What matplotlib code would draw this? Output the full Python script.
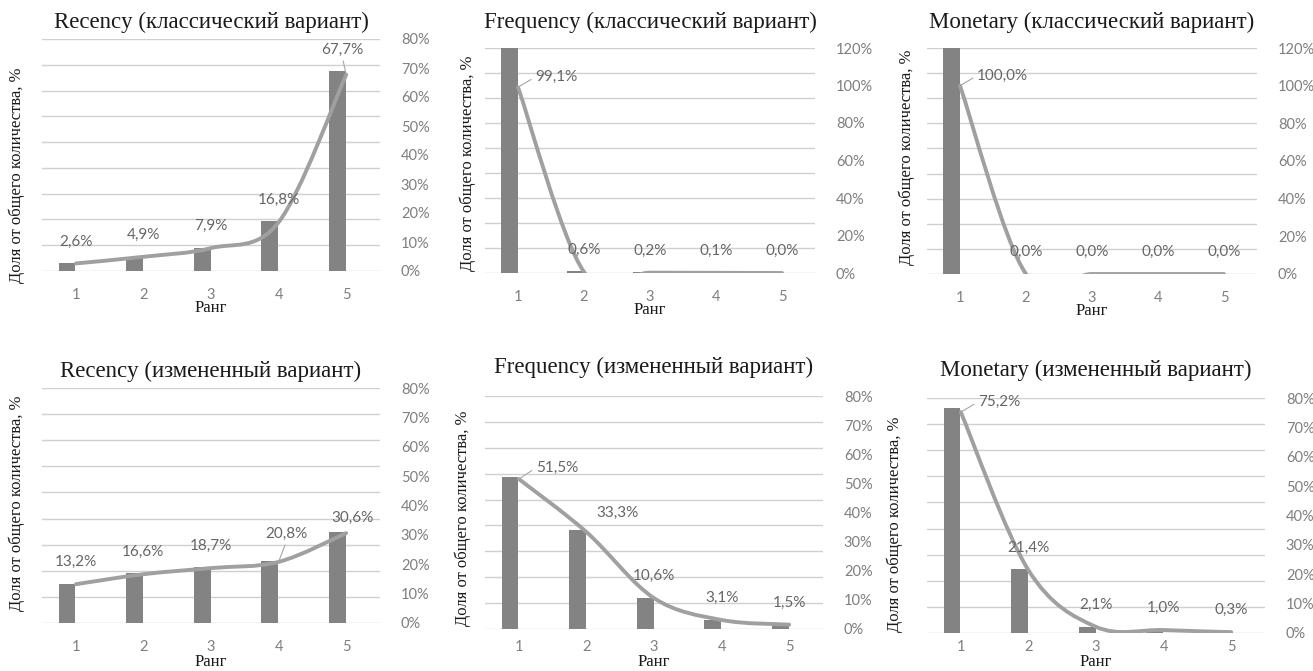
import numpy as np
import matplotlib
matplotlib.use("Agg")
import matplotlib.pyplot as plt
from matplotlib.path import Path
from matplotlib.patches import PathPatch
from matplotlib.ticker import FuncFormatter

# ---------------- data ----------------
ranks = [1, 2, 3, 4, 5]
titles = [
    "Recency (классический вариант)",
    "Frequency (классический вариант)",
    "Monetary (классический вариант)",
    "Recency (измененный вариант)",
    "Frequency (измененный вариант)",
    "Monetary (измененный вариант)",
]
recency_classic = [2.6, 4.9, 7.9, 16.8, 67.7]
frequency_classic = [99.1, 0.6, 0.2, 0.1, 0.0]
monetary_classic = [100.0, 0.0, 0.0, 0.0, 0.0]
recency_mod = [13.2, 16.6, 18.7, 20.8, 30.6]
frequency_mod = [51.5, 33.3, 10.6, 3.1, 1.5]
monetary_mod = [75.2, 21.4, 2.1, 1.0, 0.3]
series = [recency_classic, frequency_classic, monetary_classic,
          recency_mod, frequency_mod, monetary_mod]
right_max = [80, 120, 120, 80, 80, 80]
right_step = [10, 20, 20, 10, 10, 10]

ylabel = "Доля от общего количества, %"
xlabel = "Ранг"

# ---------------- layout (pixels) ----------------
W, H = 1313, 671
# plot area: x0, x1, ytop, ybottom
boxes = [
    (42, 380, 39, 271),
    (485, 815, 48, 273),
    (927, 1257, 48, 274),
    (42, 380, 388, 623),
    (485, 823, 396, 629),
    (927, 1265, 398, 633),
]
title_y = [22, 22, 22, 371, 367, 370]
ylab_pos = [(17, 175), (468, 163), (907, 157), (17, 503), (463, 518), (895, 524)]
xtick_pad = [12, 12, 12, 12, 8, 5]
# special label placements: (panel, index) -> (dx, dy, ha, leader)
special = {
    (0, 4): (-4, 25, "center", True),
    (1, 0): (17, 10, "left", True),
    (2, 0): (17, 10, "left", True),
    (3, 3): (8, 28, "center", True),
    (3, 4): (6, 15, "center", False),
    (4, 0): (17, 11, "left", True),
    (4, 1): (31, 19, "center", False),
    (5, 0): (17, 10, "left", True),
}

BAR_AXIS_MAX = 0.787
bar_color = "#838383"
line_color = "#a0a0a0"
grid_color = "#d0d0d0"
tick_color = "#7f7f7f"
label_color = "#666666"
sans = ["Lato", "DejaVu Sans"]
serif = ["Liberation Serif", "DejaVu Serif"]


def smooth_path(xs, ys):
    pts = list(zip(xs, ys))
    n = len(pts)
    verts = [pts[0]]
    codes = [Path.MOVETO]
    for i in range(n - 1):
        p0 = np.array(pts[i - 1] if i > 0 else pts[i])
        p1 = np.array(pts[i])
        p2 = np.array(pts[i + 1])
        p3 = np.array(pts[i + 2] if i + 2 < n else pts[i + 1])
        c1 = p1 + (p2 - p0) / 6.0
        c2 = p2 - (p3 - p1) / 6.0
        verts += [tuple(c1), tuple(c2), tuple(p2)]
        codes += [Path.CURVE4] * 3
    return Path(verts, codes)


fig = plt.figure(figsize=(W / 100, H / 100), dpi=100)

for k, vals in enumerate(series):
    x0, x1, yt, yb = boxes[k]
    ax = fig.add_axes([x0 / W, 1 - yb / H, (x1 - x0) / W, (yb - yt) / H])
    frac = [v / 100.0 for v in vals]
    # bars on primary axis
    ax.bar([r - 0.255 for r in ranks], frac, width=0.25, align="edge",
           color=bar_color, zorder=2)
    ax.set_xlim(0.5, 5.5)
    ax.set_ylim(0, BAR_AXIS_MAX)
    ax.set_yticks(np.linspace(0, BAR_AXIS_MAX, 10))
    ax.set_yticklabels([])
    ax.grid(axis="y", color=grid_color, lw=1.0, zorder=0)
    ax.set_axisbelow(True)
    ax.tick_params(axis="both", length=0)
    ax.set_xticks(ranks)
    ax.set_xticklabels([str(r) for r in ranks], fontfamily=sans, fontsize=10.5,
                       color=tick_color)
    ax.tick_params(axis="x", pad=xtick_pad[k])
    for s in ax.spines.values():
        s.set_visible(False)

    # line on secondary axis
    ax2 = ax.twinx()
    ax2.set_ylim(0, right_max[k] / 100.0)
    ax2.set_yticks(np.arange(0, right_max[k] + 1, right_step[k]) / 100.0)
    ax2.yaxis.set_major_formatter(FuncFormatter(lambda v, p: f"{round(v * 100)}%"))
    for t in ax2.get_yticklabels():
        t.set_fontfamily(sans)
    ax2.tick_params(axis="y", length=0, labelsize=10.5, labelcolor=tick_color, pad=15)
    for s in ax2.spines.values():
        s.set_visible(False)
    path = smooth_path(ranks, frac)
    patch = PathPatch(path, transform=ax2.transData, fill=False,
                      edgecolor=line_color, lw=2.8, capstyle="round",
                      joinstyle="round", zorder=3)
    patch.set_clip_on(True)
    ax2.add_patch(patch)

    # data labels
    for i, (r, f, v) in enumerate(zip(ranks, frac, vals)):
        dx, dy, ha, leader = special.get((k, i), (0, 22, "center", False))
        txt = f"{v:.1f}%".replace(".", ",")
        kw = {}
        if leader:
            rel = (0.0, 0.5) if ha == "left" else (0.5, 0.0)
            kw["arrowprops"] = dict(arrowstyle="-", color="#a6a6a6", lw=0.8,
                                    shrinkA=1, shrinkB=0, relpos=rel)
        ax2.annotate(txt, xy=(r, f), xytext=(dx, dy), textcoords="offset pixels",
                     ha=ha, va="center", fontsize=11, fontfamily=sans,
                     color=label_color, annotation_clip=False, zorder=5, **kw)

    # titles and axis labels
    cx = (x0 + x1) / 2 / W
    fig.text(cx, 1 - title_y[k] / H, titles[k], ha="center", va="center",
             fontsize=16.5, fontfamily=serif, color="#1a1a1a")
    lx, ly = ylab_pos[k]
    fig.text(lx / W, 1 - ly / H, ylabel, ha="center", va="center",
             rotation=90, fontsize=12, fontfamily=serif, color="#1a1a1a")
    if k < 3:
        fig.text(cx, 1 - (yb + 37) / H, xlabel, ha="center", va="center",
                 fontsize=12, fontfamily=serif, color="#1a1a1a")
    else:
        fig.text(cx, 1.5 / H, xlabel, ha="center", va="bottom",
                 fontsize=12, fontfamily=serif, color="#1a1a1a")

fig.savefig("out.png", dpi=100)
